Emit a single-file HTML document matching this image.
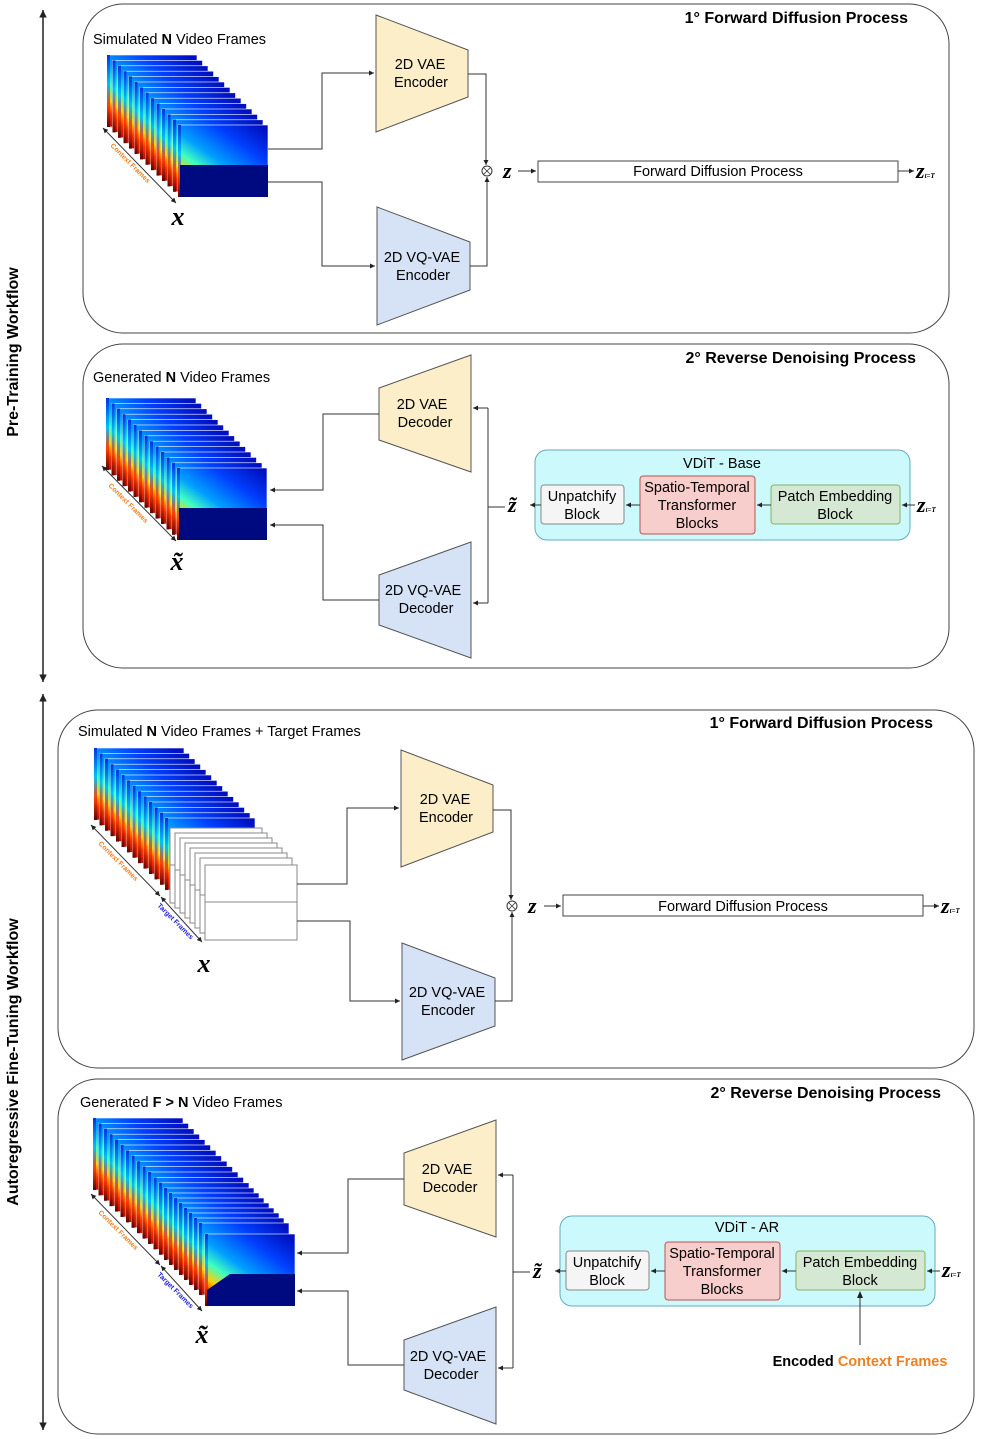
<!DOCTYPE html>
<html><head><meta charset="utf-8"><style>
html,body{margin:0;padding:0;background:#fff;}
svg{display:block;font-family:"Liberation Sans",sans-serif;}
</style></head><body>
<svg width="981" height="1439" viewBox="0 0 981 1439" xmlns="http://www.w3.org/2000/svg">
<defs>
<linearGradient id="g" x1="0" y1="1" x2="0.9" y2="0">
<stop offset="0" stop-color="#b00000"/><stop offset="0.12" stop-color="#ff3000"/><stop offset="0.22" stop-color="#ffd000"/><stop offset="0.35" stop-color="#40ffc0"/><stop offset="0.5" stop-color="#00a0ff"/><stop offset="0.75" stop-color="#0040ff"/><stop offset="1" stop-color="#0010c0"/>
</linearGradient>
<linearGradient id="e" x1="0" y1="0" x2="0" y2="1">
<stop offset="0" stop-color="#0030e0"/><stop offset="0.4" stop-color="#00c0ff"/><stop offset="0.7" stop-color="#ff4000"/><stop offset="1" stop-color="#600000"/>
</linearGradient>
<g id="fr"><rect x="0" y="0" width="90" height="72" fill="url(#g)" stroke="#fff" stroke-width="0.6"/><rect x="0" y="0" width="3" height="72" fill="url(#e)"/></g>
<g id="wf"><rect x="0" y="0" width="92" height="75" fill="#fff" stroke="#888" stroke-width="1"/><line x1="0" y1="37" x2="92" y2="37" stroke="#888"/></g>
<g id="s14">
<use href="#fr" x="0" y="0"/><use href="#fr" x="5.5" y="5.4"/><use href="#fr" x="11" y="10.8"/><use href="#fr" x="16.5" y="16.2"/><use href="#fr" x="22" y="21.6"/><use href="#fr" x="27.5" y="27"/><use href="#fr" x="33" y="32.4"/><use href="#fr" x="38.5" y="37.8"/><use href="#fr" x="44" y="43.2"/><use href="#fr" x="49.5" y="48.6"/><use href="#fr" x="55" y="54"/><use href="#fr" x="60.5" y="59.4"/><use href="#fr" x="66" y="64.8"/><use href="#fr" x="71" y="70"/>
</g>
<marker id="a" markerWidth="6" markerHeight="6" refX="5" refY="3" orient="auto"><path d="M0,0.5 L5,3 L0,5.5z" fill="#222"/></marker>
<marker id="as" markerWidth="6" markerHeight="6" refX="1" refY="3" orient="auto"><path d="M6,0.5 L1,3 L6,5.5z" fill="#222"/></marker>
</defs>

<!-- left axis -->
<line x1="43" y1="10" x2="43" y2="682" stroke="#222" stroke-width="1.5" marker-start="url(#as)" marker-end="url(#a)"/>
<line x1="43" y1="694" x2="43" y2="1430" stroke="#222" stroke-width="1.5" marker-start="url(#as)" marker-end="url(#a)"/>
<text transform="translate(18,352) rotate(-90)" text-anchor="middle" font-size="16" font-weight="bold">Pre-Training Workflow</text>
<text transform="translate(18,1062) rotate(-90)" text-anchor="middle" font-size="16" font-weight="bold">Autoregressive Fine-Tuning Workflow</text>

<!-- panels -->
<g fill="none" stroke="#444" stroke-width="1">
<rect x="83" y="4" width="866" height="329" rx="40"/>
<rect x="83" y="344" width="866" height="324" rx="40"/>
<rect x="58" y="710" width="916" height="358" rx="40"/>
<rect x="58" y="1079" width="916" height="355" rx="40"/>
</g>
<g font-size="16" font-weight="bold" text-anchor="end">
<text x="908" y="23">1° Forward Diffusion Process</text>
<text x="916" y="363">2° Reverse Denoising Process</text>
<text x="933" y="728">1° Forward Diffusion Process</text>
<text x="941" y="1098">2° Reverse Denoising Process</text>
</g>
<g font-size="14.5">
<text x="93" y="44">Simulated <tspan font-weight="bold">N</tspan> Video Frames</text>
<text x="93" y="382">Generated <tspan font-weight="bold">N</tspan> Video Frames</text>
<text x="78" y="736">Simulated <tspan font-weight="bold">N</tspan> Video Frames + Target Frames</text>
<text x="80" y="1107">Generated <tspan font-weight="bold">F &gt; N</tspan> Video Frames</text>
</g>

<!-- stacks -->
<use href="#s14" x="107" y="55"/>
<rect x="180" y="165" width="88" height="32" fill="#000a80"/>
<use href="#s14" x="106" y="398"/>
<rect x="179" y="508" width="88" height="32" fill="#000a80"/>
<use href="#s14" x="94" y="748"/>
<g transform="translate(170,828)"><use href="#wf" x="0" y="0"/><use href="#wf" x="5" y="5"/><use href="#wf" x="10" y="10"/><use href="#wf" x="15" y="15"/><use href="#wf" x="20" y="20"/><use href="#wf" x="25" y="25"/><use href="#wf" x="30" y="30"/><use href="#wf" x="35" y="37"/></g>
<use href="#s14" x="93" y="1118"/>
<g transform="translate(164,1188)"><use href="#fr" x="5" y="5"/><use href="#fr" x="10" y="10"/><use href="#fr" x="15" y="15"/><use href="#fr" x="20" y="20"/><use href="#fr" x="25" y="25"/><use href="#fr" x="30" y="30"/><use href="#fr" x="35" y="35"/><use href="#fr" x="41" y="46"/></g>
<path d="M207,1290 L230,1274 H295 V1306 H207z" fill="#000a80"/>

<!-- context arrows -->
<g stroke="#333" stroke-width="1" marker-start="url(#as)" marker-end="url(#a)">
<line x1="103" y1="128" x2="176" y2="203"/>
<line x1="102" y1="466" x2="176" y2="541"/>
<line x1="91" y1="825" x2="160" y2="896"/>
<line x1="161" y1="897" x2="202" y2="942"/>
<line x1="91" y1="1194" x2="160" y2="1265"/>
<line x1="161" y1="1266" x2="202" y2="1311"/>
</g>
<g font-size="7" font-weight="bold">
<text transform="translate(110,146) rotate(45)" fill="#f08020">Context Frames</text>
<text transform="translate(108,486) rotate(45)" fill="#f08020">Context Frames</text>
<text transform="translate(98,844) rotate(45)" fill="#f08020">Context Frames</text>
<text transform="translate(157,906) rotate(45)" fill="#2020e0">Target Frames</text>
<text transform="translate(98,1213) rotate(45)" fill="#f08020">Context Frames</text>
<text transform="translate(157,1275) rotate(45)" fill="#2020e0">Target Frames</text>
</g>
<g font-family="Liberation Serif,serif" font-style="italic" font-weight="bold" font-size="26" text-anchor="middle">
<text x="178" y="225">x</text>
<text x="177" y="570">x̃</text>
<text x="204" y="972">x</text>
<text x="202" y="1343">x̃</text>
</g>

<!-- trapezoids -->
<g stroke="#555" stroke-width="1">
<polygon points="376,15 468,50 468,97 376,132" fill="#fbeec8"/>
<polygon points="377,207 470,242 470,290 377,325" fill="#d6e3f6"/>
<polygon points="379,388 471,355 471,472 379,440" fill="#fbeec8"/>
<polygon points="379,575 471,542 471,658 379,625" fill="#d6e3f6"/>
<polygon points="401,750 493,785 493,832 401,867" fill="#fbeec8"/>
<polygon points="402,943 495,978 495,1026 402,1060" fill="#d6e3f6"/>
<polygon points="404,1153 496,1120 496,1237 404,1205" fill="#fbeec8"/>
<polygon points="404,1340 496,1307 496,1424 404,1390" fill="#d6e3f6"/>
</g>
<g font-size="14.5" text-anchor="middle">
<text x="420" y="69">2D VAE</text><text x="421" y="87">Encoder</text>
<text x="422" y="262">2D VQ-VAE</text><text x="423" y="280">Encoder</text>
<text x="422" y="409">2D VAE</text><text x="425" y="427">Decoder</text>
<text x="423" y="595">2D VQ-VAE</text><text x="426" y="613">Decoder</text>
<text x="445" y="804">2D VAE</text><text x="446" y="822">Encoder</text>
<text x="447" y="997">2D VQ-VAE</text><text x="448" y="1015">Encoder</text>
<text x="447" y="1174">2D VAE</text><text x="450" y="1192">Decoder</text>
<text x="448" y="1361">2D VQ-VAE</text><text x="451" y="1379">Decoder</text>
</g>

<!-- connectors forward panels -->
<g fill="none" stroke="#333" stroke-width="1">
<path d="M268,149 H322 V73 H374" marker-end="url(#a)"/>
<path d="M268,182 H322 V266 H375" marker-end="url(#a)"/>
<path d="M468,74 H486 V165" marker-end="url(#a)"/>
<path d="M470,266 H487 V177" marker-end="url(#a)"/>
<path d="M518,171 H536" marker-end="url(#a)"/>
<path d="M898,171 H914" marker-end="url(#a)"/>
<path d="M297,884 H347 V808 H399" marker-end="url(#a)"/>
<path d="M297,921 H350 V1001 H400" marker-end="url(#a)"/>
<path d="M493,810 H511 V900" marker-end="url(#a)"/>
<path d="M495,1001 H512 V912" marker-end="url(#a)"/>
<path d="M544,906 H561" marker-end="url(#a)"/>
<path d="M923,906 H939" marker-end="url(#a)"/>
</g>
<g fill="#fff" stroke="#333">
<circle cx="487" cy="171" r="5"/><circle cx="512" cy="906" r="5"/>
</g>
<g stroke="#333" stroke-width="0.8"><path d="M484,168 l6,6 M490,168 l-6,6"/><path d="M509,903 l6,6 M515,903 l-6,6"/></g>
<rect x="538" y="161" width="360" height="21" fill="#fff" stroke="#444"/>
<text x="718" y="176" font-size="14.5" text-anchor="middle">Forward Diffusion Process</text>
<rect x="563" y="895" width="360" height="21" fill="#fff" stroke="#444"/>
<text x="743" y="911" font-size="14.5" text-anchor="middle">Forward Diffusion Process</text>

<!-- reverse connectors -->
<g fill="none" stroke="#333" stroke-width="1">
<path d="M505,507 H488"/><path d="M488,408 V603"/>
<path d="M488,408 H473" marker-end="url(#a)"/><path d="M488,603 H473" marker-end="url(#a)"/>
<path d="M379,414 H323 V490 H270" marker-end="url(#a)"/>
<path d="M379,600 H323 V525 H270" marker-end="url(#a)"/>
<path d="M530,1272 H513"/><path d="M513,1175 V1368"/>
<path d="M513,1175 H498" marker-end="url(#a)"/><path d="M513,1368 H498" marker-end="url(#a)"/>
<path d="M404,1179 H348 V1253 H297" marker-end="url(#a)"/>
<path d="M404,1365 H348 V1291 H297" marker-end="url(#a)"/>
</g>

<!-- VDiT base -->
<rect x="535" y="450" width="375" height="90" rx="12" fill="#ccfafc" stroke="#6ab"/>
<text x="722" y="468" font-size="14.5" text-anchor="middle">VDiT - Base</text>
<rect x="541" y="485" width="83" height="39" rx="3" fill="#f5f5f5" stroke="#888"/>
<rect x="640" y="476" width="115" height="58" rx="3" fill="#f8cecc" stroke="#b85450"/>
<rect x="771" y="485" width="129" height="39" rx="3" fill="#d5e8d4" stroke="#82b366"/>
<g font-size="14.5" text-anchor="middle">
<text x="582" y="501">Unpatchify</text><text x="582" y="519">Block</text>
<text x="697" y="492">Spatio-Temporal</text><text x="697" y="510">Transformer</text><text x="697" y="528">Blocks</text>
<text x="835" y="501">Patch Embedding</text><text x="835" y="519">Block</text>
</g>
<g fill="none" stroke="#333"><path d="M915,505 H902" marker-end="url(#a)"/><path d="M771,505 H757" marker-end="url(#a)"/><path d="M640,505 H626" marker-end="url(#a)"/><path d="M541,505 H530" marker-end="url(#a)"/></g>

<!-- VDiT AR -->
<rect x="560" y="1216" width="375" height="90" rx="12" fill="#ccfafc" stroke="#6ab"/>
<text x="747" y="1232" font-size="14.5" text-anchor="middle">VDiT - AR</text>
<rect x="566" y="1251" width="83" height="39" rx="3" fill="#f5f5f5" stroke="#888"/>
<rect x="665" y="1242" width="115" height="58" rx="3" fill="#f8cecc" stroke="#b85450"/>
<rect x="796" y="1251" width="129" height="39" rx="3" fill="#d5e8d4" stroke="#82b366"/>
<g font-size="14.5" text-anchor="middle">
<text x="607" y="1267">Unpatchify</text><text x="607" y="1285">Block</text>
<text x="722" y="1258">Spatio-Temporal</text><text x="722" y="1276">Transformer</text><text x="722" y="1294">Blocks</text>
<text x="860" y="1267">Patch Embedding</text><text x="860" y="1285">Block</text>
</g>
<g fill="none" stroke="#333"><path d="M940,1271 H927" marker-end="url(#a)"/><path d="M796,1271 H782" marker-end="url(#a)"/><path d="M665,1271 H651" marker-end="url(#a)"/><path d="M566,1271 H555" marker-end="url(#a)"/></g>
<path d="M860,1345 V1296" stroke="#333" fill="none"/><path d="M857,1298 L860,1291 L863,1298z" fill="#222"/>
<text x="860" y="1366" font-size="14.5" font-weight="bold" text-anchor="middle">Encoded <tspan fill="#f08020">Context Frames</tspan></text>

<!-- z symbols -->
<g font-family="Liberation Serif,serif" font-style="italic" font-weight="bold" font-size="22">
<text x="503" y="178">z</text>
<text x="916" y="178">z<tspan font-size="7">t=T</tspan></text>
<text x="508" y="512">z̃</text>
<text x="917" y="512">z<tspan font-size="7">t=T</tspan></text>
<text x="528" y="913">z</text>
<text x="941" y="913">z<tspan font-size="7">t=T</tspan></text>
<text x="533" y="1278">z̃</text>
<text x="942" y="1277">z<tspan font-size="7">t=T</tspan></text>
</g>
</svg>
</body></html>
